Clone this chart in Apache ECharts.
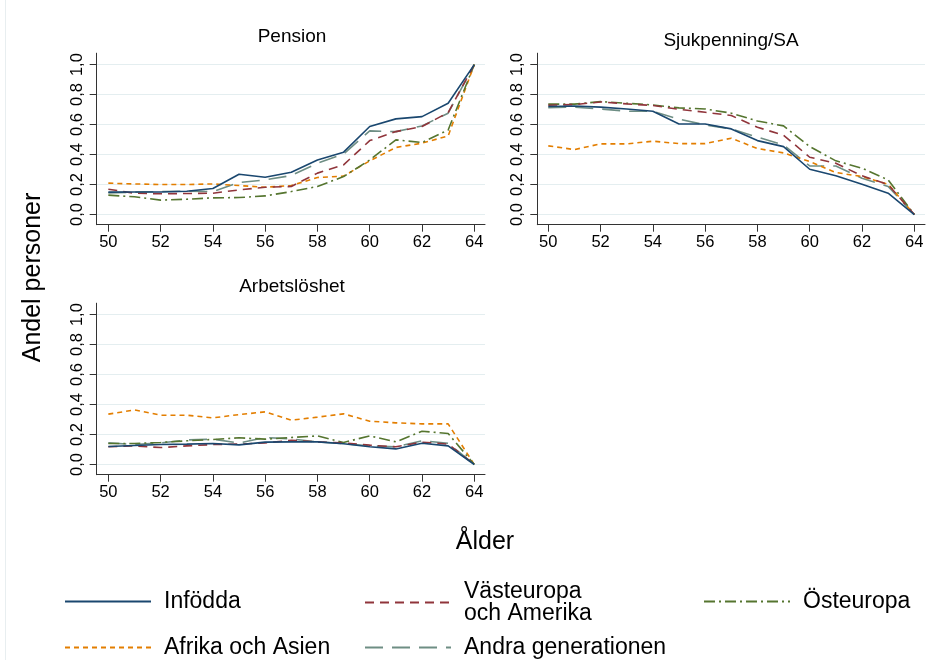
<!DOCTYPE html>
<html>
<head>
<meta charset="utf-8">
<script src="https://cdn.jsdelivr.net/npm/echarts@6/dist/echarts.min.js"></script>
<style>html,body{margin:0;padding:0;background:#fff}#c{width:927px;height:660px}</style>
</head>
<body>
<div id="c"></div>
<script>
// ---- data ----
const ages = [50,51,52,53,54,55,56,57,58,59,60,61,62,63,64];
const groupNames = ['Infödda','Västeuropa och Amerika','Östeuropa','Afrika och Asien','Andra generationen'];
const panelTitles = ['Pension','Sjukpenning/SA','Arbetslöshet'];
const yTicks = [0,0.2,0.4,0.6,0.8,1.0];
const xTicks = [50,52,54,56,58,60,62,64];

// Pension
const pensionInfodda   = [0.149,0.150,0.150,0.155,0.173,0.269,0.249,0.282,0.364,0.416,0.587,0.638,0.653,0.742,1.0];
const pensionVast      = [0.169,0.142,0.138,0.140,0.142,0.164,0.182,0.187,0.276,0.331,0.493,0.553,0.587,0.680,1.0];
const pensionOst       = [0.129,0.118,0.096,0.102,0.111,0.113,0.124,0.153,0.187,0.253,0.364,0.498,0.480,0.564,1.0];
const pensionAfrika    = [0.209,0.204,0.200,0.200,0.204,0.193,0.182,0.193,0.247,0.256,0.358,0.447,0.476,0.524,1.0];
const pensionAndra     = [0.144,0.149,0.153,0.156,0.153,0.213,0.231,0.260,0.342,0.404,0.558,0.553,0.591,0.676,1.0];

// Sjukpenning/SA
const sjukInfodda      = [0.720,0.724,0.716,0.704,0.689,0.604,0.604,0.571,0.493,0.453,0.302,0.258,0.202,0.142,0.0];
const sjukVast         = [0.729,0.733,0.751,0.738,0.727,0.702,0.682,0.660,0.582,0.529,0.382,0.342,0.258,0.200,0.0];
const sjukOst          = [0.736,0.736,0.753,0.742,0.731,0.711,0.704,0.676,0.624,0.591,0.453,0.358,0.309,0.231,0.0];
const sjukAfrika       = [0.458,0.433,0.471,0.471,0.489,0.473,0.473,0.509,0.440,0.411,0.353,0.280,0.253,0.202,0.0];
const sjukAndra        = [0.713,0.716,0.704,0.689,0.689,0.636,0.598,0.571,0.516,0.464,0.324,0.324,0.242,0.187,0.0];

// Arbetslöshet
const arbInfodda       = [0.120,0.127,0.133,0.136,0.140,0.131,0.149,0.151,0.151,0.138,0.118,0.104,0.142,0.124,0.0];
const arbVast          = [0.118,0.124,0.113,0.124,0.133,0.136,0.144,0.162,0.151,0.144,0.129,0.118,0.149,0.136,0.0];
const arbOst           = [0.140,0.140,0.147,0.158,0.167,0.178,0.169,0.180,0.191,0.147,0.191,0.151,0.222,0.207,0.0];
const arbAfrika        = [0.336,0.364,0.329,0.329,0.311,0.333,0.351,0.296,0.316,0.338,0.289,0.278,0.271,0.271,0.0];
const arbAndra         = [0.144,0.133,0.144,0.164,0.169,0.144,0.180,0.171,0.151,0.140,0.124,0.118,0.158,0.142,0.0];

const panelData = [
  [pensionInfodda, pensionVast, pensionOst, pensionAfrika, pensionAndra],
  [sjukInfodda, sjukVast, sjukOst, sjukAfrika, sjukAndra],
  [arbInfodda, arbVast, arbOst, arbAfrika, arbAndra]
];

// ---- styles ----
const colors = ['#1a476f','#90353b','#55752f','#e37e00','#6e8e84'];
const dashes = ['solid',[9,6],[11,4,2,4],[5,4],[18,9]];
const FONT = '"Liberation Sans", Arial, Helvetica, sans-serif';

const grids = [
  {left: 96.7, top: 53.2, width: 388.3, height: 171.5},
  {left: 537.3, top: 53.2, width: 387.7, height: 171.5},
  {left: 96.7, top: 303.2, width: 388.3, height: 171.5}
];
const xRanges = [[49.555,64.41],[49.58,64.41],[49.555,64.41]];

const axisLineStyle = {color:'#333', width:1};

const xAxes = grids.map((g,i)=>({
  type:'value', gridIndex:i, min:xRanges[i][0], max:xRanges[i][1],
  axisLine:{show:true, onZero:false, lineStyle:axisLineStyle},
  axisTick:{show:true, length:7, lineStyle:axisLineStyle, customValues: xTicks},
  axisLabel:{fontFamily:FONT, fontSize:16.5, color:'#000', margin:9, customValues: xTicks},
  splitLine:{show:false}
}));
const yAxes = grids.map((g,i)=>({
  type:'value', gridIndex:i, min:-0.068, max:1.076,
  axisLine:{show:true, onZero:false, lineStyle:axisLineStyle},
  axisTick:{show:true, length:7, lineStyle:axisLineStyle, customValues: yTicks},
  axisLabel:{fontFamily:FONT, fontSize:16.5, color:'#000', margin:11, rotate:90,
    customValues: yTicks, formatter: v => Number(v).toFixed(1).replace('.', ',')},
  splitLine:{show:true, lineStyle:{color:'#e4eef0', width:1}}
}));

const series = [];
panelData.forEach((arrs, p) => {
  arrs.forEach((vals, k) => {
    series.push({
      type:'line', name: groupNames[k], xAxisIndex:p, yAxisIndex:p,
      data: ages.map((a,j)=>[a, vals[j]]),
      symbol:'none', showSymbol:false, silent:true, animation:false,
      lineStyle:{color:colors[k], width:1.6, type:dashes[k]},
      itemStyle:{color:colors[k]},
      z: 10 - k
    });
  });
});

const legendPos = [
  {left:64, top:590},
  {left:364, top:580},
  {left:703, top:590},
  {left:64, top:636},
  {left:364, top:636}
];
const legends = groupNames.map((n,k)=>({
  data:[n], left:legendPos[k].left, top:legendPos[k].top, orient:'horizontal',
  padding:0, itemWidth:86, itemHeight:14, selectedMode:false,
  itemStyle:{opacity:0},
  textStyle:{fontFamily:FONT, fontSize:23, color:'#000', lineHeight:22, padding:[0,0,0,8]},
  formatter: name => name === 'Västeuropa och Amerika' ? 'Västeuropa\noch Amerika' : name
}));

const titlePos = [[292,36.5],[731,40.7],[292,286.5]];
const graphics = panelTitles.map((t,i)=>({
  type:'text', x:titlePos[i][0], y:titlePos[i][1], silent:true,
  style:{text:t, font:'19px '+FONT, fill:'#000', align:'center', verticalAlign:'middle'}
}));
graphics.push({type:'text', x:485, y:542.5, silent:true,
  style:{text:'Ålder', font:'25px '+FONT, fill:'#000', align:'center', verticalAlign:'middle'}});
graphics.push({type:'text', x:33, y:277.5, rotation:Math.PI/2, silent:true,
  style:{text:'Andel personer', font:'25px '+FONT, fill:'#000', align:'center', verticalAlign:'middle'}});
graphics.push({type:'line', silent:true, shape:{x1:5.5,y1:0,x2:5.5,y2:660}, style:{stroke:'#e8eef0', lineWidth:1}});

const chart = echarts.init(document.getElementById('c'), null, {renderer:'canvas'});
chart.setOption({
  animation:false,
  backgroundColor:'#ffffff',
  grid: grids,
  xAxis: xAxes,
  yAxis: yAxes,
  legend: legends,
  series: series,
  graphic: graphics
});
</script>
</body>
</html>
